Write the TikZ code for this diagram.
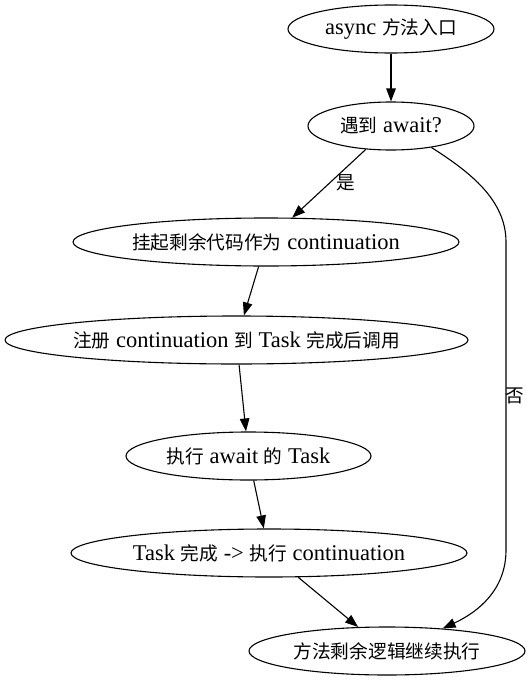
\documentclass[tikz,border=0pt]{standalone}
\usepackage{fontspec}
\setmainfont{Liberation Serif}
\newfontfamily\cjk{Noto Sans CJK SC}[Scale=0.83]
\newcommand\zh[1]{{\cjk #1}}
\usetikzlibrary{shapes.geometric,arrows.meta}
\begin{document}
\begin{tikzpicture}[x=1pt,y=-1pt,
 nd/.style={ellipse,draw,line width=1.1pt,inner sep=0pt,minimum height=48pt,font=\fontsize{22.5}{26}\selectfont},
 ed/.style={line width=1.1pt,-{Triangle[length=13pt,width=9.5pt]}},
 lb/.style={font=\fontsize{22.5}{26}\selectfont,inner sep=0pt}]
\useasboundingbox (0,0) rectangle (531,680);
\node[nd,minimum width=206pt] (n1) at (391,29) {\makebox[0pt]{async \zh{方法入口}}};
\node[nd,minimum width=166pt] (n2) at (391,126) {\makebox[0pt]{\zh{遇到} await?}};
\node[nd,minimum width=386pt] (n3) at (266,242) {\makebox[0pt]{\zh{挂起剩余代码作为} continuation}};
\node[nd,minimum width=463pt] (n4) at (236.5,340) {\makebox[0pt]{\zh{注册} continuation \zh{到} Task \zh{完成后调用}}};
\node[nd,minimum width=245pt] (n5) at (248.5,456) {\makebox[0pt]{\zh{执行} await \zh{的} Task}};
\node[nd,minimum width=396pt] (n6) at (269,553) {\makebox[0pt]{Task \zh{完成} -> \zh{执行} continuation}};
\node[nd,minimum width=276pt] (n7) at (387,651) {\makebox[0pt]{\zh{方法剩余逻辑继续执行}}};
\draw[ed] (n1) -- (n2);
\draw[ed] (n2) -- (n3);
\draw[ed] (n3) -- (n4);
\draw[ed] (n4) -- (n5);
\draw[ed] (n5) -- (n6);
\draw[ed] (n6) -- (n7);
\draw[ed] (n2.-28) .. controls (470,172) and (506,200) .. (506,242) -- (506,550) .. controls (506,590) and (478,612) .. (n7.22);
\node[lb] (l1) at (346,183) {\zh{是}};
\node[lb] (l2) at (515,396) {\zh{否}};
\end{tikzpicture}
\end{document}
